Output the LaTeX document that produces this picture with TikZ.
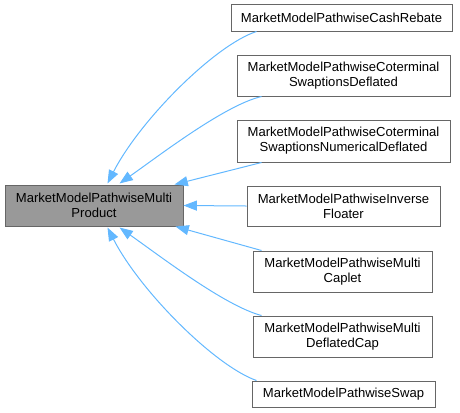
\documentclass[tikz,border=0pt]{standalone}
\usepackage{fontspec}
\setmainfont{Liberation Sans}
\usetikzlibrary{arrows.meta,calc}

\definecolor{edgeblue}{HTML}{63B8FF}
\definecolor{boxgray}{HTML}{666666}
\definecolor{basefill}{HTML}{999999}

\tikzset{
  cls/.style={draw=boxgray,line width=0.75pt,fill=white,inner sep=0pt,
    align=center,font=\fontsize{9.8}{11.3}\selectfont},
  basecls/.style={cls,fill=basefill},
  inherit/.style={edgeblue,line width=0.75pt,-{Triangle[length=10pt,width=7.5pt]}}
}

\begin{document}
\begin{tikzpicture}[x=0.75pt,y=-0.75pt]
  \useasboundingbox (0,0) rectangle (460,412);
  % Base class
  \node[basecls,minimum width=133.5pt,minimum height=30.75pt] (multi) at (94,205.5)
    {MarketModelPathwiseMulti\\Product};
  % Derived classes
  \node[cls,minimum width=165.75pt,minimum height=20.25pt] (cash) at (341.5,17.5)
    {MarketModelPathwiseCashRebate};
  \node[cls,minimum width=159.75pt,minimum height=30.75pt] (cotdefl) at (343.5,75.5)
    {MarketModelPathwiseCoterminal\\SwaptionsDeflated};
  \node[cls,minimum width=159.75pt,minimum height=31.5pt] (cotnum) at (343.5,141)
    {MarketModelPathwiseCoterminal\\SwaptionsNumericalDeflated};
  \node[cls,minimum width=144.75pt,minimum height=30pt] (invfl) at (343.5,206)
    {MarketModelPathwiseInverse\\Floater};
  \node[cls,minimum width=134.25pt,minimum height=30.75pt] (caplet) at (342.5,271.5)
    {MarketModelPathwiseMulti\\Caplet};
  \node[cls,minimum width=134.25pt,minimum height=30.75pt] (deflcap) at (342.5,336.5)
    {MarketModelPathwiseMulti\\DeflatedCap};
  \node[cls,minimum width=137.25pt,minimum height=19.5pt] (swap) at (343.5,394)
    {MarketModelPathwiseSwap};
  % Inheritance arrows
  \draw[inherit] ($(cash.south west)+(26,0)$) .. controls (215,45) and (140,120)
    .. ($(multi.north west)+(103,-1)$);
  \draw[inherit] ($(cotdefl.south west)+(25,0)$) .. controls (225,105) and (160,155)
    .. ($(multi.north west)+(115,-1)$);
  \draw[inherit] ($(cotnum.south west)+(25,0)$) -- ($(multi.north west)+(170,0)$);
  \draw[inherit] (invfl.west) -- (multi.east);
  \draw[inherit] ($(caplet.north west)+(9,0)$) -- ($(multi.south west)+(171,0)$);
  \draw[inherit] ($(deflcap.north west)+(9,0)$) .. controls (225,306) and (160,256)
    .. ($(multi.south west)+(115,1)$);
  \draw[inherit] ($(swap.north west)+(5,0)$) .. controls (215,366) and (140,291)
    .. ($(multi.south west)+(103,1)$);
\end{tikzpicture}
\end{document}
